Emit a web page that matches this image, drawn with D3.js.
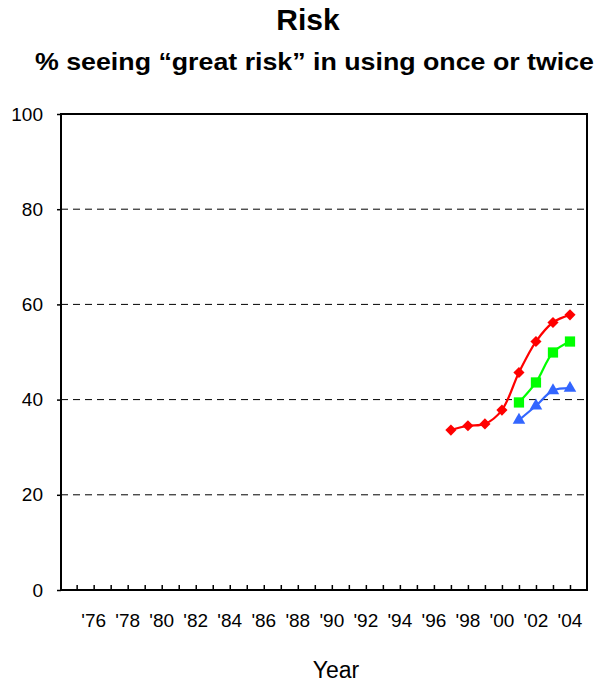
<!DOCTYPE html>
<html><head><meta charset="utf-8">
<script src="https://cdn.jsdelivr.net/npm/d3@7"></script>
<style>body{margin:0;background:#fff;} svg{display:block;font-family:"Liberation Sans",Arial,sans-serif;}</style>
</head><body>
<script>
const years = d3.range(1975, 2005);
const labelYears = d3.range(1976, 2005, 2);
const yTicks = [0, 20, 40, 60, 80, 100];
const redYears = [1997, 1998, 1999, 2000, 2001, 2002, 2003, 2004];
const redValues = [33.6, 34.5, 34.9, 37.8, 45.7, 52.2, 56.2, 57.8];
const greenYears = [2001, 2002, 2003, 2004];
const greenValues = [39.4, 43.6, 49.9, 52.2];
const blueYears = [2001, 2002, 2003, 2004];
const blueValues = [35.7, 38.7, 41.9, 42.4];

const W = 604, H = 684;
const L = 61, R = 587, T = 114, B = 590;
const svg = d3.select("body").append("svg").attr("width", W).attr("height", H);

const x = d3.scaleLinear().domain([1974.08, 2005]).range([L, R]);
const y = d3.scaleLinear().domain([0, 100]).range([B, T]);

// title
svg.append("text").attr("x", 308).attr("y", 30).attr("text-anchor", "middle")
  .attr("font-weight", "bold").attr("font-size", 30).text("Risk");
svg.append("text").attr("x", 314.5).attr("y", 70).attr("text-anchor", "middle")
  .attr("font-weight", "bold").attr("font-size", 24.5)
  .attr("textLength", 559).attr("lengthAdjust", "spacingAndGlyphs")
  .text("% seeing \u201cgreat risk\u201d in using once or twice");

// gridlines
svg.append("g").selectAll("line").data(yTicks.filter(d => d > 0 && d < 100)).join("line")
  .attr("x1", L).attr("x2", R).attr("y1", d => y(d)).attr("y2", d => y(d))
  .attr("stroke", "#000").attr("stroke-width", 1).attr("stroke-dasharray", "7,5");

// y axis
const yAxis = d3.axisLeft(y).tickValues(yTicks).tickSize(4).tickPadding(14).tickFormat(d3.format("d"));
const gy = svg.append("g").attr("transform", `translate(${L},0)`).call(yAxis);
gy.select(".domain").remove();
gy.selectAll("line").attr("stroke", "#000").attr("stroke-width", 1.5);
gy.selectAll("text").attr("font-size", 19).attr("fill", "#000").attr("font-family", "Liberation Sans, Arial, sans-serif");

// x axis ticks (inward)
const xAxis = d3.axisBottom(x).tickValues(years).tickSize(-5).tickFormat("");
const gx = svg.append("g").attr("transform", `translate(0,${B})`).call(xAxis);
gx.select(".domain").remove();
gx.selectAll("line").attr("stroke", "#000").attr("stroke-width", 1.5);

// x labels
svg.append("g").selectAll("text").data(labelYears).join("text")
  .attr("x", d => x(d)).attr("y", 627).attr("text-anchor", "middle").attr("font-size", 19)
  .text(d => "'" + String(d).slice(2));

// frame
svg.append("rect").attr("x", L).attr("y", T).attr("width", R - L).attr("height", B - T)
  .attr("fill", "none").attr("stroke", "#000").attr("stroke-width", 2);

svg.append("text").attr("x", 336).attr("y", 678).attr("text-anchor", "middle").attr("font-size", 23).text("Year");

const line = d3.line().x(d => x(d[0])).y(d => y(d[1])).curve(d3.curveCatmullRom.alpha(0.5));

function series(ys, vs, color, sym, size, rot) {
  const data = ys.map((yr, i) => [yr, vs[i]]);
  svg.append("path").datum(data).attr("d", line).attr("fill", "none").attr("stroke", color).attr("stroke-width", 2.2);
  svg.append("g").selectAll("path").data(data).join("path")
    .attr("transform", d => `translate(${x(d[0])},${y(d[1])}) rotate(${rot})`)
    .attr("d", d3.symbol().type(sym).size(size)).attr("fill", color);
}
series(redYears, redValues, "#ff0000", d3.symbolSquare, 62, 45);
series(greenYears, greenValues, "#00ff00", d3.symbolSquare, 105, 0);
series(blueYears, blueValues, "#3366ff", d3.symbolTriangle, 68, 0);
</script>
</body></html>
